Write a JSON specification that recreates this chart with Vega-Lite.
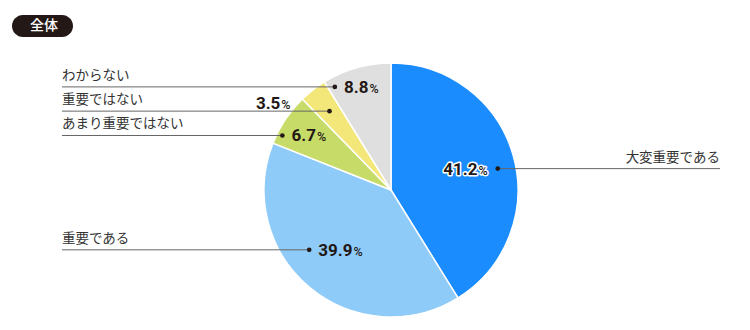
{
  "$schema": "https://vega.github.io/schema/vega-lite/v6.json",
  "width": 718,
  "height": 280,
  "autosize": {"type": "none"},
  "padding": {"left": 32, "top": 50, "right": 0, "bottom": 0},
  "background": "white",
  "config": {"view": {"stroke": null}},
  "data": {
    "values": [
      {"category": "大変重要である", "value": 41.2, "rank": 1},
      {"category": "重要である", "value": 39.9, "rank": 2},
      {"category": "あまり重要ではない", "value": 6.7, "rank": 3},
      {"category": "重要ではない", "value": 3.5, "rank": 4},
      {"category": "わからない", "value": 8.8, "rank": 5}
    ]
  },
  "layer": [
    {
      "mark": {"type": "arc", "radius": 127, "stroke": "#ffffff", "strokeWidth": 1.5},
      "encoding": {
        "theta": {"field": "value", "type": "quantitative", "stack": true},
        "order": {"field": "rank", "type": "quantitative"},
        "color": {
          "field": "category",
          "type": "nominal",
          "scale": {
            "domain": ["大変重要である", "重要である", "あまり重要ではない", "重要ではない", "わからない"],
            "range": ["#1a8cfe", "#8ecbf8", "#c7dc68", "#f3e77a", "#dfdfdf"]
          },
          "legend": null
        }
      }
    },
    {
      "transform": [
        {"joinaggregate": [{"op": "sum", "field": "value", "as": "total"}]},
        {"window": [{"op": "sum", "field": "value", "as": "cum"}], "sort": [{"field": "rank"}], "frame": [null, 0]},
        {"calculate": "2*PI*(datum.cum - datum.value/2)/datum.total", "as": "mid"},
        {"calculate": "sin(datum.mid)", "as": "s"},
        {"calculate": "cos(datum.mid)", "as": "c"},
        {"calculate": "datum.s >= 0 ? 1 : -1", "as": "side"},
        {"calculate": "format(datum.value, '.1f')", "as": "numText"},
        {"calculate": "9.6*(length(datum.numText)-1) + 4.5", "as": "numW"},
        {"calculate": "datum.numW + 1 + 9.2", "as": "W"},
        {"calculate": "datum.value < 5", "as": "small"},
        {"calculate": "datum.value >= 20 ? 78 : 86 + 22*datum.c", "as": "rl"},
        {"calculate": "datum.small ? 100*datum.s : datum.rl*datum.s + datum.side*(datum.W/2 + 10)", "as": "dotX"},
        {"calculate": "datum.small ? 100*datum.c : datum.rl*datum.c", "as": "dotY"},
        {"calculate": "datum.small ? datum.dotX + datum.side*(39 + datum.W/2) : datum.rl*datum.s", "as": "px"},
        {"calculate": "datum.small ? datum.dotY + 8 : datum.dotY", "as": "py"},
        {"calculate": "datum.px - datum.W/2 + datum.numW", "as": "numRight"},
        {"calculate": "datum.numRight + 1", "as": "pctX"},
        {"calculate": "datum.side*329", "as": "lineEnd"}
      ],
      "layer": [
        {
          "mark": {"type": "rule", "color": "#666666", "strokeWidth": 1},
          "encoding": {
            "x": {"field": "dotX", "type": "quantitative", "scale": {"domain": [-359, 359], "nice": false, "zero": false}, "axis": null},
            "x2": {"field": "lineEnd"},
            "y": {"field": "dotY", "type": "quantitative", "scale": {"domain": [-140, 140], "nice": false, "zero": false}, "axis": null}
          }
        },
        {
          "mark": {"type": "point", "filled": true, "size": 22, "color": "#231815", "opacity": 1},
          "encoding": {
            "x": {"field": "dotX", "type": "quantitative", "scale": {"domain": [-359, 359], "nice": false, "zero": false}, "axis": null},
            "y": {"field": "dotY", "type": "quantitative", "scale": {"domain": [-140, 140], "nice": false, "zero": false}, "axis": null},
            "shape": {
              "datum": "全体",
              "type": "nominal",
              "scale": {"range": ["circle"]},
              "legend": {
                "orient": "none",
                "legendX": -20,
                "legendY": -35,
                "title": null,
                "fillColor": "#231815",
                "cornerRadius": 11,
                "padding": 4,
                "symbolSize": 0,
                "symbolOpacity": 0,
                "symbolStrokeWidth": 0,
                "labelOffset": 0,
                "labelColor": "#ffffff",
                "labelFont": "Noto Sans CJK JP",
                "labelFontSize": 14,
                "labelFontWeight": 500,
                "labelExpr": "'\u2002' + datum.label + '\u2002\u2005\u200b'"
              }
            }
          }
        },
        {
          "transform": [{"filter": "datum.side < 0"}],
          "mark": {"type": "text", "align": "left", "baseline": "alphabetic", "dy": -7, "font": "Noto Sans CJK JP", "fontSize": 13.5, "color": "#333333"},
          "encoding": {
            "x": {"field": "lineEnd", "type": "quantitative", "scale": {"domain": [-359, 359], "nice": false, "zero": false}, "axis": null},
            "y": {"field": "dotY", "type": "quantitative", "scale": {"domain": [-140, 140], "nice": false, "zero": false}, "axis": null},
            "text": {"field": "category"}
          }
        },
        {
          "transform": [{"filter": "datum.side > 0"}],
          "mark": {"type": "text", "align": "right", "baseline": "alphabetic", "dy": -7, "font": "Noto Sans CJK JP", "fontSize": 13.5, "color": "#333333"},
          "encoding": {
            "x": {"field": "lineEnd", "type": "quantitative", "scale": {"domain": [-359, 359], "nice": false, "zero": false}, "axis": null},
            "y": {"field": "dotY", "type": "quantitative", "scale": {"domain": [-140, 140], "nice": false, "zero": false}, "axis": null},
            "text": {"field": "category"}
          }
        },
        {
          "transform": [{"filter": "datum.rank == 1"}],
          "mark": {"type": "text", "align": "right", "baseline": "alphabetic", "dy": 6, "font": "Roboto", "fontSize": 17, "fontWeight": "bold", "fill": "#ffffff", "stroke": "#ffffff", "strokeWidth": 3, "strokeJoin": "round"},
          "encoding": {
            "x": {"field": "numRight", "type": "quantitative", "scale": {"domain": [-359, 359], "nice": false, "zero": false}, "axis": null},
            "y": {"field": "py", "type": "quantitative", "scale": {"domain": [-140, 140], "nice": false, "zero": false}, "axis": null},
            "text": {"field": "numText"}
          }
        },
        {
          "transform": [{"filter": "datum.rank == 1"}],
          "mark": {"type": "text", "align": "left", "baseline": "alphabetic", "dy": 6, "font": "Roboto", "fontSize": 12.5, "fontWeight": 500, "fill": "#ffffff", "stroke": "#ffffff", "strokeWidth": 3, "strokeJoin": "round"},
          "encoding": {
            "x": {"field": "pctX", "type": "quantitative", "scale": {"domain": [-359, 359], "nice": false, "zero": false}, "axis": null},
            "y": {"field": "py", "type": "quantitative", "scale": {"domain": [-140, 140], "nice": false, "zero": false}, "axis": null},
            "text": {"value": "%"}
          }
        },
        {
          "mark": {"type": "text", "align": "right", "baseline": "alphabetic", "dy": 6, "font": "Roboto", "fontSize": 17, "fontWeight": "bold", "color": "#231815"},
          "encoding": {
            "x": {"field": "numRight", "type": "quantitative", "scale": {"domain": [-359, 359], "nice": false, "zero": false}, "axis": null},
            "y": {"field": "py", "type": "quantitative", "scale": {"domain": [-140, 140], "nice": false, "zero": false}, "axis": null},
            "text": {"field": "numText"}
          }
        },
        {
          "mark": {"type": "text", "align": "left", "baseline": "alphabetic", "dy": 6, "font": "Roboto", "fontSize": 12.5, "fontWeight": 500, "color": "#231815"},
          "encoding": {
            "x": {"field": "pctX", "type": "quantitative", "scale": {"domain": [-359, 359], "nice": false, "zero": false}, "axis": null},
            "y": {"field": "py", "type": "quantitative", "scale": {"domain": [-140, 140], "nice": false, "zero": false}, "axis": null},
            "text": {"value": "%"}
          }
        }
      ]
    }
  ]
}
